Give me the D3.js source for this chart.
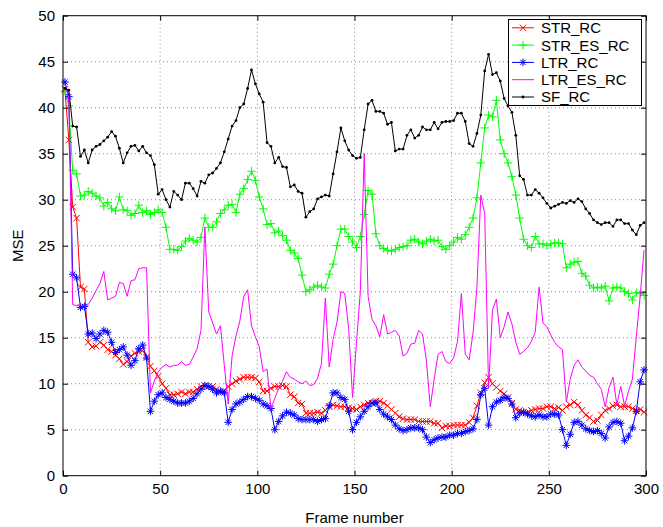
<!DOCTYPE html>
<html><head><meta charset="utf-8">
<script src="https://cdn.jsdelivr.net/npm/d3@7"></script>
<style>
body{margin:0;background:#fff}
svg{display:block}
text{font-family:"Liberation Sans",Arial,Helvetica,sans-serif;fill:#000}
</style>
</head><body>
<svg id="chart" width="663" height="527"></svg>
<script>
// ---------- data ----------
const frames = d3.range(1, 300, 2); // frame numbers 1,3,...,299
const xTickValues = [0, 50, 100, 150, 200, 250, 300];
const yTickValues = [0, 5, 10, 15, 20, 25, 30, 35, 40, 45, 50];
const seriesNames = ["STR_RC", "STR_ES_RC", "LTR_RC", "LTR_ES_RC", "SF_RC"];
const xLabel = "Frame number";
const yLabel = "MSE";

const strRC = [
42.0,36.5,29.2,28.0,20.5,20.3,14.5,14.0,14.1,14.5,
14.2,13.7,13.5,13.1,12.7,12.1,12.4,13.0,13.3,13.5,
13.6,12.9,11.9,11.4,10.8,10.0,9.5,8.8,8.8,8.9,
9.1,8.9,9.1,9.1,9.4,9.7,9.8,9.7,9.7,9.4,
9.1,9.2,9.7,10.0,10.3,10.5,10.7,10.7,10.7,10.6,
10.2,9.2,9.2,9.5,9.7,9.7,9.8,9.7,8.8,8.6,
7.9,7.8,6.8,6.8,6.8,6.9,6.8,7.1,7.5,7.7,
7.6,7.5,7.5,7.4,7.3,7.2,7.5,7.7,7.9,7.9,
8.1,8.1,7.9,7.6,7.2,6.8,6.4,6.2,6.1,6.1,
6.1,5.9,5.9,5.9,5.9,5.7,5.7,5.2,5.4,5.4,
5.5,5.5,5.5,5.5,5.8,6.3,7.6,9.0,10.1,10.7,
10.0,9.6,9.2,8.9,8.5,7.9,7.2,7.1,6.9,6.9,
7.1,7.2,7.3,7.3,7.5,7.5,7.3,7.4,7.1,7.5,
7.7,8.0,7.7,7.1,6.6,6.3,5.9,6.0,6.6,7.1,
7.3,7.6,7.7,7.5,7.5,7.5,7.3,7.1,7.2,6.9];

const strEsRC = [
41.8,40.2,33.2,32.8,30.4,30.5,30.9,30.7,30.4,30.2,
29.3,29.7,29.0,28.8,30.3,28.9,28.8,28.3,28.5,29.4,
28.6,28.8,28.4,28.6,28.9,28.6,27.0,24.6,24.6,24.5,
24.9,25.5,25.8,25.6,25.4,25.9,28.0,27.0,27.0,27.6,
28.5,28.9,29.4,29.5,28.6,30.6,31.2,32.2,33.1,32.1,
30.3,29.0,27.3,27.4,26.4,26.6,26.1,25.6,24.5,24.2,
23.6,21.8,20.0,20.2,20.5,20.7,20.5,20.4,21.9,23.0,
25.0,26.8,26.8,26.0,25.4,24.8,26.0,28.4,31.0,30.6,
26.3,25.0,24.7,24.5,24.4,24.6,24.8,24.9,25.0,25.6,
25.7,25.4,25.2,25.5,25.7,25.5,25.6,24.9,24.6,25.0,
25.4,25.9,25.7,26.2,27.0,28.0,30.2,34.0,37.8,39.2,
39.0,40.8,36.5,35.0,34.0,32.5,30.5,28.0,25.7,25.0,
24.8,26.0,25.2,25.2,25.0,25.2,25.3,25.3,25.2,22.6,
23.0,23.2,23.3,22.0,21.7,20.7,20.4,20.5,20.4,20.6,
19.0,20.4,20.5,20.4,20.0,19.8,19.1,19.9,19.8,19.6];

const ltrRC = [
42.8,41.2,21.9,21.5,18.3,18.4,15.4,15.5,14.9,15.4,
15.8,15.6,14.5,13.4,13.7,14.0,13.1,12.0,12.5,13.8,
14.2,12.8,7.0,8.1,8.8,9.0,8.5,8.3,8.1,7.9,
7.9,7.9,8.1,8.4,8.9,9.4,9.8,9.7,9.4,9.0,
9.2,9.0,5.8,7.2,7.8,8.0,8.3,8.6,8.6,8.4,
8.2,7.8,7.6,7.3,5.0,5.9,6.5,6.9,6.8,6.6,
6.2,6.1,6.1,6.1,6.1,5.9,6.1,6.2,7.6,9.0,
9.0,8.5,8.3,7.0,5.0,5.8,6.4,7.0,7.5,7.9,
7.9,7.2,6.7,6.4,6.1,5.5,5.1,4.9,5.0,5.2,
5.2,5.2,5.0,4.2,3.6,3.9,4.1,4.2,4.2,4.4,
4.4,4.6,4.6,4.8,4.9,5.1,6.1,8.8,9.5,5.5,
7.5,8.0,8.2,8.5,8.4,7.8,6.3,6.8,6.9,6.7,
6.5,6.4,6.6,6.4,6.4,6.7,6.7,6.6,5.0,3.3,
4.5,5.8,5.9,5.5,5.1,4.9,4.8,4.9,4.6,4.1,
5.3,5.8,5.9,5.7,3.8,4.3,5.2,7.0,10.2,11.5];

const ltrEsRC = [
42.6,41.0,18.6,18.5,18.6,18.4,18.6,19.3,20.1,20.9,
22.2,19.1,19.3,19.5,21.0,20.9,19.5,21.2,21.3,22.5,
22.6,22.6,9.0,10.3,11.3,11.8,12.1,11.8,12.0,12.0,
12.4,12.0,12.1,12.9,13.8,15.8,27.0,17.8,16.6,15.4,
16.3,12.0,7.8,13.0,15.2,16.8,19.5,20.2,16.3,15.1,
14.0,11.3,11.6,7.3,8.4,9.5,10.3,11.3,10.7,10.5,
10.2,10.0,10.3,9.8,9.9,10.6,12.2,19.3,11.8,14.8,
16.7,20.0,19.8,16.0,8.5,14.4,20.0,35.0,19.5,17.0,
16.3,15.1,17.5,15.4,15.6,15.8,15.2,13.0,13.3,14.3,
14.4,15.8,15.4,12.5,7.5,10.5,13.2,13.5,12.4,12.2,
12.8,14.6,19.8,13.2,12.6,15.5,20.5,30.5,28.5,9.5,
18.0,19.2,15.0,16.2,17.8,16.5,14.5,13.2,13.5,13.9,
14.6,15.6,20.5,16.6,16.2,15.3,14.5,14.0,13.7,8.0,
10.5,12.0,12.6,11.8,11.4,10.9,10.7,10.0,9.4,7.5,
9.6,10.7,7.7,9.7,7.6,9.2,10.5,15.1,19.5,24.5];

const sfRC = [
42.1,41.9,38.0,37.9,34.7,35.4,34.0,35.4,35.8,36.0,
36.4,36.8,37.4,36.9,35.6,34.0,35.1,35.8,35.9,35.3,
35.8,35.1,34.8,33.8,30.6,31.1,30.0,29.2,30.9,30.5,
30.0,31.8,31.8,31.2,30.4,32.0,31.8,32.7,32.9,33.4,
34.0,35.2,36.6,38.0,38.6,40.0,40.4,42.1,44.1,42.6,
41.5,40.6,36.2,35.8,34.0,34.6,33.6,33.5,31.4,31.6,
30.9,30.7,28.1,28.7,29.0,30.1,30.3,30.5,30.4,32.8,
35.2,37.8,36.4,35.4,34.8,34.5,34.6,37.6,40.4,40.8,
39.6,39.6,39.4,38.2,38.4,35.3,35.5,35.5,37.0,37.6,
36.7,37.0,37.9,37.6,37.6,38.4,37.7,38.4,38.5,38.5,
38.6,39.4,39.4,38.5,36.1,35.8,37.2,39.2,44.0,45.8,
43.6,43.8,42.9,41.0,40.2,39.5,37.0,32.6,32.2,30.5,
30.5,31.1,30.7,30.2,29.6,29.1,29.3,29.5,29.7,29.6,
29.9,29.7,30.1,29.8,29.0,28.5,27.8,27.5,27.3,27.5,
27.5,27.1,27.8,27.8,27.4,27.4,26.7,26.2,27.2,27.5];

// ---------- layout ----------
const svg = d3.select("#chart");
const pLeft = 63, pRight = 646, pTop = 15.7, pBottom = 475.7;
const x = d3.scaleLinear().domain([0, 300]).range([pLeft, pRight]);
const y = d3.scaleLinear().domain([0, 50]).range([pBottom, pTop]);

// grid
const grid = svg.append("g");
grid.selectAll(".gx").data(xTickValues.slice(1, -1)).join("line")
  .attr("x1", d => x(d)).attr("x2", d => x(d)).attr("y1", pTop).attr("y2", pBottom)
  .attr("stroke", "#8c8c8c").attr("stroke-width", 1).attr("stroke-dasharray", "1,3");
grid.selectAll(".gy").data(yTickValues.slice(1, -1)).join("line")
  .attr("x1", pLeft).attr("x2", pRight).attr("y1", d => y(d)).attr("y2", d => y(d))
  .attr("stroke", "#8c8c8c").attr("stroke-width", 1).attr("stroke-dasharray", "1,3");

// series
const series = [
  {name: seriesNames[0], values: strRC,  color: "#ff0000", marker: "x"},
  {name: seriesNames[1], values: strEsRC, color: "#00ff00", marker: "+"},
  {name: seriesNames[2], values: ltrRC,  color: "#0000ff", marker: "*"},
  {name: seriesNames[3], values: ltrEsRC, color: "#ff00ff", marker: "none"},
  {name: seriesNames[4], values: sfRC,   color: "#000000", marker: "."}
];

function markerPath(m, px, py) {
  if (m === "x") { const s = 3.2; return `M${px-s},${py-s}L${px+s},${py+s}M${px-s},${py+s}L${px+s},${py-s}`; }
  if (m === "+") { const s = 4.2; return `M${px-s},${py}L${px+s},${py}M${px},${py-s}L${px},${py+s}`; }
  if (m === "*") { const s = 3.8, d = 2.7; return `M${px-s},${py}L${px+s},${py}M${px},${py-s}L${px},${py+s}M${px-d},${py-d}L${px+d},${py+d}M${px-d},${py+d}L${px+d},${py-d}`; }
  return "";
}

const lineGen = d3.line().x(d => x(d[0])).y(d => y(d[1]));
const plot = svg.append("g");
series.forEach(s => {
  const pts = frames.map((f, i) => [f, s.values[i]]);
  const g = plot.append("g");
  g.append("path").attr("d", lineGen(pts)).attr("fill", "none")
    .attr("stroke", s.color).attr("stroke-width", 1);
  if (s.marker === ".") {
    g.selectAll("circle").data(pts).join("circle")
      .attr("cx", d => x(d[0])).attr("cy", d => y(d[1])).attr("r", 1.4).attr("fill", s.color);
  } else if (s.marker !== "none") {
    g.append("path").attr("d", pts.map(d => markerPath(s.marker, x(d[0]), y(d[1]))).join(""))
      .attr("fill", "none").attr("stroke", s.color).attr("stroke-width", 1);
  }
});

// axes
const fontSize = "15px";
const ax = svg.append("g").attr("transform", `translate(0,${pBottom})`)
  .call(d3.axisBottom(x).tickValues(xTickValues).tickSizeInner(-5).tickSizeOuter(0).tickPadding(8));
const ay = svg.append("g").attr("transform", `translate(${pLeft},0)`)
  .call(d3.axisLeft(y).tickValues(yTickValues).tickSizeInner(-5).tickSizeOuter(0).tickPadding(8));
const axT = svg.append("g").attr("transform", `translate(0,${pTop})`)
  .call(d3.axisTop(x).tickValues(xTickValues).tickSizeInner(-5).tickSizeOuter(0).tickFormat(""));
const ayR = svg.append("g").attr("transform", `translate(${pRight},0)`)
  .call(d3.axisRight(y).tickValues(yTickValues).tickSizeInner(-5).tickSizeOuter(0).tickFormat(""));
[ax, ay, axT, ayR].forEach(a => {
  a.select(".domain").remove();
  a.selectAll("line").attr("stroke", "#000");
  a.selectAll("text").style("font-size", fontSize).attr("font-family", "Liberation Sans, Arial, sans-serif");
});
svg.append("rect").attr("x", pLeft).attr("y", pTop).attr("width", pRight - pLeft).attr("height", pBottom - pTop)
  .attr("fill", "none").attr("stroke", "#000").attr("stroke-width", 1);

svg.append("text").attr("x", (pLeft + pRight) / 2).attr("y", 523).attr("text-anchor", "middle")
  .style("font-size", fontSize).text(xLabel);
svg.append("text").attr("transform", `translate(23,${(pTop + pBottom) / 2}) rotate(-90)`)
  .attr("text-anchor", "middle").style("font-size", fontSize).text(yLabel);

// legend
const lg = svg.append("g");
const rowGap = 17.3;
lg.append("rect").attr("x", 508.5).attr("y", 19.5).attr("width", 133).attr("height", 86)
  .attr("fill", "#fff").attr("stroke", "#000").attr("stroke-width", 1);
series.forEach((s, i) => {
  const ry = 27.8 + i * rowGap;
  lg.append("line").attr("x1", 512).attr("x2", 534).attr("y1", ry).attr("y2", ry)
    .attr("stroke", s.color).attr("stroke-width", 1);
  if (s.marker === ".") {
    lg.append("circle").attr("cx", 523).attr("cy", ry).attr("r", 1.4).attr("fill", s.color);
  } else if (s.marker !== "none") {
    lg.append("path").attr("d", markerPath(s.marker, 523, ry)).attr("fill", "none")
      .attr("stroke", s.color).attr("stroke-width", 1);
  }
  lg.append("text").attr("x", 541).attr("y", ry + 5.4).style("font-size", "15px").text(s.name);
});
</script>
</body></html>
